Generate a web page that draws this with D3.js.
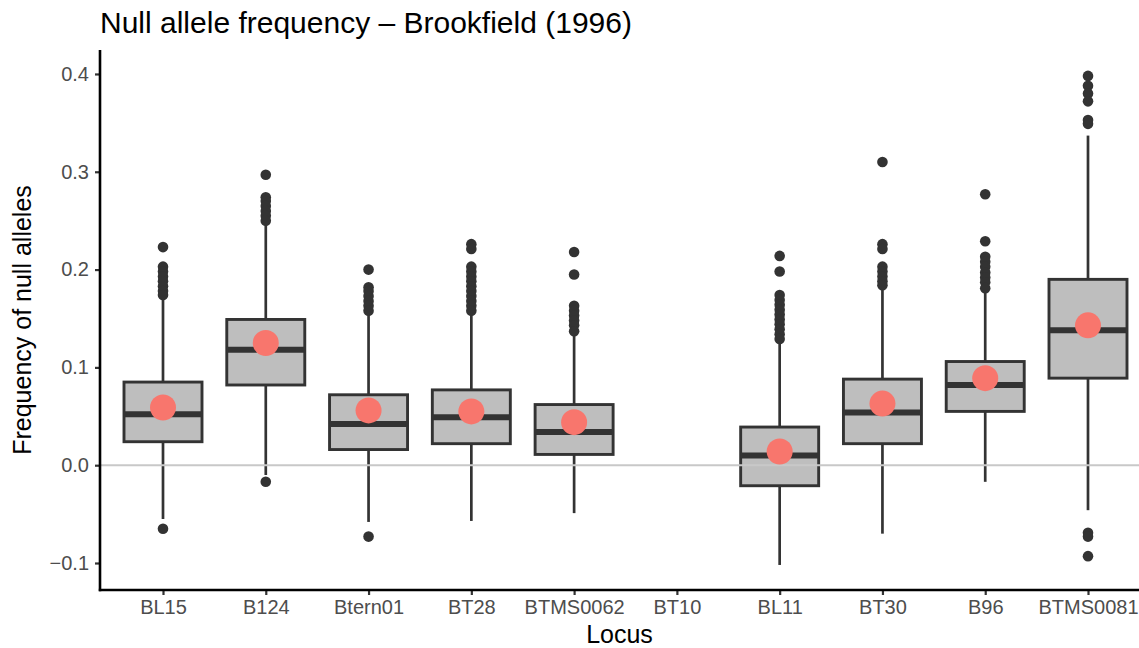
<!DOCTYPE html>
<html>
<head>
<meta charset="utf-8">
<script src="https://cdn.jsdelivr.net/npm/d3@7"></script>
<style>
  html, body { margin: 0; padding: 0; background: #ffffff; }
  svg { display: block; font-family: "Liberation Sans", Arial, Helvetica, sans-serif; }
</style>
</head>
<body>
<svg id="chart" width="1139" height="648"></svg>
<script>
// ---- Data ----
const loci = ["BL15", "B124", "Btern01", "BT28", "BTMS0062", "BT10", "BL11", "BT30", "B96", "BTMS0081"];
const whiskerLow  = [-0.055, -0.010, -0.058, -0.057, -0.049, null, -0.102, -0.070, -0.017, -0.046];
const q1          = [ 0.024,  0.082,  0.016,  0.022,  0.011, null, -0.021,  0.022,  0.055,  0.089];
const median      = [ 0.052,  0.118,  0.042,  0.049,  0.034, null,  0.010,  0.054,  0.082,  0.138];
const q3          = [ 0.085,  0.149,  0.072,  0.077,  0.062, null,  0.039,  0.088,  0.106,  0.190];
const whiskerHigh = [ 0.172,  0.247,  0.155,  0.157,  0.135, null,  0.126,  0.183,  0.179,  0.337];
const means       = [ 0.059,  0.125,  0.056,  0.055,  0.044, null,  0.014,  0.063,  0.089,  0.143];
const outliers = [
  [0.223, 0.203, 0.198, 0.193, 0.188, 0.183, 0.178, 0.174, -0.065],
  [0.297, 0.274, 0.270, 0.265, 0.260, 0.255, 0.250, -0.017],
  [0.200, 0.182, 0.178, 0.173, 0.168, 0.163, 0.158, -0.073],
  [0.226, 0.221, 0.203, 0.198, 0.193, 0.188, 0.183, 0.178, 0.173, 0.168, 0.163, 0.158],
  [0.218, 0.195, 0.163, 0.158, 0.153, 0.148, 0.143, 0.137],
  [],
  [0.214, 0.198, 0.174, 0.169, 0.164, 0.159, 0.154, 0.149, 0.144, 0.139, 0.134, 0.129],
  [0.310, 0.226, 0.221, 0.203, 0.198, 0.193, 0.188, 0.184],
  [0.277, 0.229, 0.213, 0.208, 0.203, 0.197, 0.192, 0.187, 0.181],
  [0.398, 0.388, 0.380, 0.372, 0.353, 0.349, -0.069, -0.073, -0.093]
];
const yTicks = [-0.1, 0.0, 0.1, 0.2, 0.3, 0.4];
const titleText = "Null allele frequency \u2013 Brookfield (1996)";
const xTitle = "Locus";
const yTitle = "Frequency of null alleles";

// ---- Layout ----
const plot = { left: 100, right: 1139, top: 50, bottom: 590 };
const svg = d3.select("#chart");

const x = d3.scalePoint().domain(loci).range([163, 1088]);
const y = d3.scaleLinear().domain([-0.1276, 0.4245]).range([plot.bottom, plot.top]);
const boxW = 78;

const rows = loci.map((name, i) => ({
  name, lo: whiskerLow[i], q1: q1[i], med: median[i], q3: q3[i], hi: whiskerHigh[i],
  mean: means[i], out: outliers[i]
})).filter(d => d.med !== null);

const g = svg.append("g");

// whiskers
g.selectAll("line.whisk-up").data(rows).join("line")
  .attr("x1", d => x(d.name)).attr("x2", d => x(d.name))
  .attr("y1", d => y(d.q3)).attr("y2", d => y(d.hi))
  .attr("stroke", "#333333").attr("stroke-width", 2.7);
g.selectAll("line.whisk-lo").data(rows).join("line")
  .attr("x1", d => x(d.name)).attr("x2", d => x(d.name))
  .attr("y1", d => y(d.q1)).attr("y2", d => y(d.lo))
  .attr("stroke", "#333333").attr("stroke-width", 2.7);

// boxes
g.selectAll("rect.box").data(rows).join("rect")
  .attr("x", d => x(d.name) - boxW / 2).attr("width", boxW)
  .attr("y", d => y(d.q3)).attr("height", d => y(d.q1) - y(d.q3))
  .attr("fill", "#bebebe").attr("stroke", "#333333").attr("stroke-width", 2.9);

// medians
g.selectAll("line.med").data(rows).join("line")
  .attr("x1", d => x(d.name) - boxW / 2).attr("x2", d => x(d.name) + boxW / 2)
  .attr("y1", d => y(d.med)).attr("y2", d => y(d.med))
  .attr("stroke", "#333333").attr("stroke-width", 6);

// outliers
rows.forEach(d => {
  g.selectAll(null).data(d.out).join("circle")
    .attr("cx", x(d.name)).attr("cy", v => y(v)).attr("r", 5.3)
    .attr("fill", "#333333");
});

// zero reference line (drawn over boxes)
g.append("line")
  .attr("x1", plot.left).attr("x2", plot.right)
  .attr("y1", y(0)).attr("y2", y(0))
  .attr("stroke", "#c8c8c8").attr("stroke-width", 2);

// means
g.selectAll("circle.mean").data(rows).join("circle")
  .attr("cx", d => x(d.name)).attr("cy", d => y(d.mean)).attr("r", 13)
  .attr("fill", "#F8766D");

// ---- Axes ----
const yAxis = d3.axisLeft(y).tickValues(yTicks).tickFormat(d3.format(".1f")).tickSize(5).tickPadding(6);
const yAx = svg.append("g").attr("transform", `translate(${plot.left},0)`).call(yAxis);
yAx.select(".domain").remove();
yAx.append("line").attr("x1", 0).attr("x2", 0).attr("y1", plot.top).attr("y2", plot.bottom + 1.2)
  .attr("stroke", "#000").attr("stroke-width", 2.6);
yAx.selectAll(".tick line").attr("stroke", "#333").attr("stroke-width", 2.2);
yAx.selectAll(".tick text").attr("fill", "#4d4d4d").style("font-size", "20px");

const xAxis = d3.axisBottom(x).tickSize(5).tickPadding(5);
const xAx = svg.append("g").attr("transform", `translate(0,${plot.bottom})`).call(xAxis);
xAx.select(".domain").remove();
xAx.append("line").attr("x1", plot.left - 1.2).attr("x2", plot.right).attr("y1", 0).attr("y2", 0)
  .attr("stroke", "#000").attr("stroke-width", 2.6);
xAx.selectAll(".tick line").attr("stroke", "#333").attr("stroke-width", 2.2);
xAx.selectAll(".tick text").attr("fill", "#4d4d4d").style("font-size", "20px");

// ---- Titles ----
svg.append("text").attr("x", 100).attr("y", 33)
  .attr("fill", "#000").style("font-size", "30px").text(titleText);
svg.append("text").attr("x", (plot.left + plot.right) / 2).attr("y", 643)
  .attr("text-anchor", "middle").attr("fill", "#000").style("font-size", "25px").text(xTitle);
svg.append("text").attr("transform", `translate(31,${(plot.top + plot.bottom) / 2}) rotate(-90)`)
  .attr("text-anchor", "middle").attr("fill", "#000").style("font-size", "25px").text(yTitle);
</script>
</body>
</html>
